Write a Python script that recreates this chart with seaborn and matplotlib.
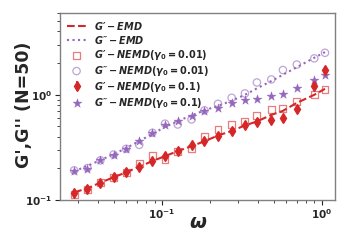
import numpy as np
import pandas as pd
import seaborn as sns
import matplotlib
matplotlib.use("Agg")
import matplotlib.pyplot as plt

sns.set_theme(style="ticks")
plt.rcParams['font.family'] = ['DejaVu Sans']
plt.rcParams['font.weight'] = 'bold'
plt.rcParams['mathtext.fontset'] = 'custom'
plt.rcParams['mathtext.it'] = 'DejaVu Sans:italic:bold'
plt.rcParams['mathtext.rm'] = 'DejaVu Sans:bold'
plt.rcParams['mathtext.bf'] = 'DejaVu Sans:bold'

# frequencies
omega = [0.0283, 0.0343, 0.0413, 0.0499, 0.0598, 0.0722, 0.0873, 0.1047, 0.1257, 0.1533,
         0.1848, 0.2244, 0.2732, 0.3307, 0.3927, 0.4833, 0.5712, 0.6981, 0.8976, 1.0472]

# equilibrium MD curves
g1_emd = [0.118, 0.129, 0.146, 0.164, 0.183, 0.207, 0.234, 0.261, 0.291, 0.325,
          0.361, 0.410, 0.453, 0.511, 0.557, 0.644, 0.703, 0.838, 1.00, 1.14]
g2_emd = [0.187, 0.211, 0.239, 0.272, 0.311, 0.363, 0.424, 0.494, 0.561, 0.637,
          0.711, 0.785, 0.877, 1.00, 1.15, 1.35, 1.55, 1.83, 2.25, 2.55]

# NEMD, gamma0 = 0.01
g1_nemd_001 = [0.112, 0.126, 0.146, 0.164, 0.181, 0.224, 0.265, 0.241, 0.290, 0.308,
               0.401, 0.468, 0.522, 0.557, 0.630, 0.726, 0.743, 0.867, 1.01, 1.13]
g2_nemd_001 = [0.191, 0.201, 0.238, 0.270, 0.306, 0.334, 0.435, 0.531, 0.522, 0.583,
               0.711, 0.820, 0.936, 1.03, 1.31, 1.40, 1.72, 1.94, 2.22, 2.51]

# NEMD, gamma0 = 0.1
g1_nemd_01 = [0.117, 0.127, 0.146, 0.164, 0.184, 0.205, 0.232, 0.264, 0.290, 0.336,
              0.361, 0.404, 0.451, 0.511, 0.549, 0.574, 0.604, 0.726, 1.21, 1.73]
g1_nemd_01_err = [0.004, 0.004, 0.005, 0.005, 0.006, 0.006, 0.007, 0.008, 0.009, 0.010,
                  0.011, 0.012, 0.014, 0.015, 0.017, 0.018, 0.020, 0.030, 0.080, 0.130]
g2_nemd_01 = [0.187, 0.198, 0.238, 0.270, 0.306, 0.361, 0.433, 0.511, 0.564, 0.627,
              0.695, 0.755, 0.830, 0.886, 0.916, 0.968, 1.01, 1.15, 1.39, 1.54]

labels = ["$G′ - EMD$", "$G″ - EMD$",
          r"$G′ - NEMD(\gamma_0 = 0.01)$", r"$G″ - NEMD(\gamma_0 = 0.01)$",
          r"$G′ - NEMD(\gamma_0 = 0.1)$", r"$G″ - NEMD(\gamma_0 = 0.1)$"]

df = pd.DataFrame({"omega": omega, "g1_emd": g1_emd, "g2_emd": g2_emd,
                   "g1_001": g1_nemd_001, "g2_001": g2_nemd_001,
                   "g1_01": g1_nemd_01, "g2_01": g2_nemd_01})

red = "#d62728"
purple = "#9467bd"

fig = plt.figure(figsize=(3.49, 2.45), dpi=100)
ax = fig.add_axes([0.172, 0.184, 0.788, 0.763])

sns.lineplot(data=df, x="omega", y="g1_emd", ax=ax, color=red, linestyle="--",
             linewidth=1.5, label=labels[0])
sns.lineplot(data=df, x="omega", y="g2_emd", ax=ax, color=purple, linestyle=":",
             linewidth=1.5, label=labels[1])
sns.scatterplot(data=df, x="omega", y="g1_001", ax=ax, marker="s", s=25,
                facecolor="none", edgecolor=red, linewidth=0.9, alpha=0.6,
                label=labels[2])
sns.scatterplot(data=df, x="omega", y="g2_001", ax=ax, marker="o", s=28,
                facecolor="none", edgecolor=purple, linewidth=0.9, alpha=0.6,
                label=labels[3])
ax.errorbar(omega, g1_nemd_01, yerr=g1_nemd_01_err, fmt="d", color=red,
            markersize=5, elinewidth=1.2, capsize=0, label=labels[4])
sns.scatterplot(data=df, x="omega", y="g2_01", ax=ax, marker="*", s=45,
                color=purple, edgecolor=purple, linewidth=0.3, label=labels[5])

ax.set_xscale("log")
ax.set_yscale("log")
ax.set_xlim(0.0231, 1.21)
ax.set_ylim(0.1, 6.0)

ax.set_xlabel("ω", fontsize=14, fontweight="bold", fontstyle="italic")
ax.set_ylabel("G',G'' (N=50)", fontsize=12.5, fontweight="bold")
ax.xaxis.set_label_coords(0.5, -0.07)
ax.yaxis.set_label_coords(-0.098, 0.508)
ax.tick_params(axis="both", which="major", labelsize=7.5, length=3.5, width=0.8, pad=2)
ax.tick_params(axis="both", which="minor", length=2, width=0.6)
for t in ax.get_xticklabels() + ax.get_yticklabels():
    t.set_fontweight("bold")
for sp in ax.spines.values():
    sp.set_color("0.5")
    sp.set_linewidth(1.0)

handles, labs = ax.get_legend_handles_labels()
order = [labs.index(l) for l in labels]
ax.legend([handles[i] for i in order], [labs[i] for i in order],
          loc="upper left", frameon=False, fontsize=7, handlelength=2.0,
          handletextpad=0.8, labelspacing=0.2, borderaxespad=0.3)

plt.savefig("out.png", dpi=100)
